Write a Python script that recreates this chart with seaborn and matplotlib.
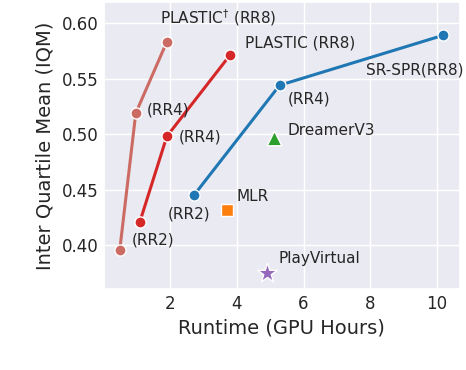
import matplotlib
matplotlib.use("Agg")
import matplotlib.pyplot as plt
import seaborn as sns
import pandas as pd

plastic_dag_x = [0.49, 0.97, 1.90]
plastic_dag_y = [0.396, 0.519, 0.583]
plastic_x = [1.09, 1.90, 3.79]
plastic_y = [0.421, 0.498, 0.571]
srspr_x = [2.71, 5.28, 10.19]
srspr_y = [0.445, 0.544, 0.589]
mlr = (3.70, 0.432)
dreamer = (5.10, 0.497)
playvirtual = (4.90, 0.375)

sns.set_theme(style="darkgrid")
plt.rcParams['font.family'] = ['DejaVu Sans']

fig = plt.figure(figsize=(4.66, 3.70), dpi=100)
ax = fig.add_axes([0.223, 0.218, 0.764, 0.777])

c_dag = "#cc6b63"
c_red = "#d62728"
c_blue = "#1f77b4"

for xs, ys, c in [(plastic_dag_x, plastic_dag_y, c_dag),
                  (plastic_x, plastic_y, c_red),
                  (srspr_x, srspr_y, c_blue)]:
    df = pd.DataFrame({"x": xs, "y": ys})
    sns.lineplot(data=df, x="x", y="y", color=c, linewidth=2.2, marker="o",
                 markersize=8, markeredgecolor="white", markeredgewidth=1.0,
                 ax=ax, sort=False)

sns.scatterplot(x=[mlr[0]], y=[mlr[1]], marker="s", s=75, color="#ff7f0e",
                edgecolor="white", linewidth=1.0, ax=ax, zorder=3)
sns.scatterplot(x=[dreamer[0]], y=[dreamer[1]], marker="^", s=110, color="#2ca02c",
                edgecolor="white", linewidth=1.0, ax=ax, zorder=3)
sns.scatterplot(x=[playvirtual[0]], y=[playvirtual[1]], marker="*", s=220, color="#9467bd",
                edgecolor="white", linewidth=1.0, ax=ax, zorder=3)

fs = 11
tc = "#262626"
ax.text(3.43, 0.6045, r"PLASTIC$^{\dagger}$ (RR8)", fontsize=fs, color=tc, ha="center", va="center")
ax.text(1.30, 0.522, "(RR4)", fontsize=fs, color=tc, ha="left", va="center")
ax.text(4.24, 0.582, "PLASTIC (RR8)", fontsize=fs, color=tc, ha="left", va="center")
ax.text(2.26, 0.4977, "(RR4)", fontsize=fs, color=tc, ha="left", va="center")
ax.text(0.85, 0.405, "(RR2)", fontsize=fs, color=tc, ha="left", va="center")
ax.text(7.88, 0.558, "SR-SPR(RR8)", fontsize=fs, color=tc, ha="left", va="center")
ax.text(5.52, 0.532, "(RR4)", fontsize=fs, color=tc, ha="left", va="center")
ax.text(1.93, 0.4286, "(RR2)", fontsize=fs, color=tc, ha="left", va="center")
ax.text(5.52, 0.5035, "DreamerV3", fontsize=fs, color=tc, ha="left", va="center")
ax.text(4.00, 0.4438, "MLR", fontsize=fs, color=tc, ha="left", va="center")
ax.text(5.25, 0.3885, "PlayVirtual", fontsize=fs, color=tc, ha="left", va="center")

ax.set_xlim(0.015, 10.685)
ax.set_ylim(0.3605, 0.619)
ax.set_xticks([2, 4, 6, 8, 10])
ax.set_yticks([0.40, 0.45, 0.50, 0.55, 0.60])
ax.set_yticklabels(["0.40", "0.45", "0.50", "0.55", "0.60"])
ax.tick_params(labelsize=12, colors=tc, pad=4, length=0)
ax.set_xlabel("Runtime (GPU Hours)", fontsize=14, color=tc, labelpad=4)
ax.set_ylabel("Inter Quartile Mean (IQM)", fontsize=14, color=tc, labelpad=5)

fig.savefig("out.png", dpi=100)
